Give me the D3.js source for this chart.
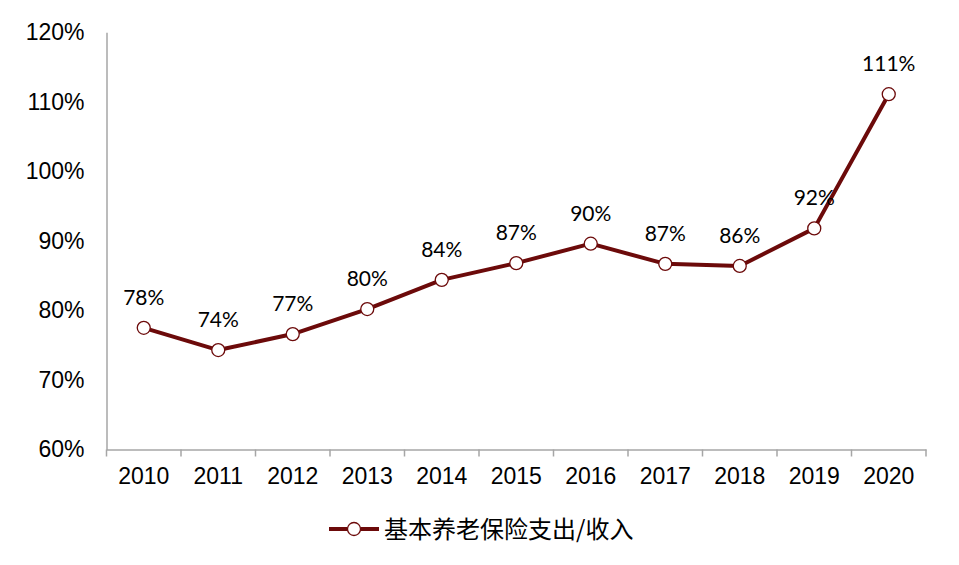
<!DOCTYPE html>
<html>
<head>
<meta charset="utf-8">
<script src="https://cdn.jsdelivr.net/npm/d3@7"></script>
<style>
html,body{margin:0;padding:0;background:#fff;}
</style>
</head>
<body>
<svg id="chart" width="959" height="565"></svg>
<script>
const years = ["2010","2011","2012","2013","2014","2015","2016","2017","2018","2019","2020"];
const ratio = [77.5, 74.3, 76.6, 80.2, 84.4, 86.8, 89.6, 86.7, 86.4, 91.8, 111.1];
const dataLabels = ["78%","74%","77%","80%","84%","87%","90%","87%","86%","92%","111%"];
const yTicks = [60, 70, 80, 90, 100, 110, 120];
const seriesName = "基本养老保险支出/收入";

const svg = d3.select("#chart");
const plotLeft = 106.5, plotRight = 926, plotTop = 32.3, plotBottom = 449.5;
const lineColor = "#6C0A0A";
const axisColor = "#A6A6A6";

const x = d3.scaleBand().domain(years).range([plotLeft, plotRight]);
const y = d3.scaleLinear().domain([60, 120]).range([plotBottom, plotTop]);

// y axis
const yAxis = svg.append("g").attr("transform", `translate(${plotLeft},0)`)
  .call(d3.axisLeft(y).tickValues(yTicks).tickSize(0).tickPadding(22).tickFormat(d => d + "%"));
yAxis.select(".domain").attr("stroke", axisColor).attr("stroke-width", 1.5);
yAxis.selectAll("text").attr("font-family", "Liberation Sans, Arial, sans-serif")
  .attr("font-size", "23px").attr("fill", "#000");

// x axis
const xAxis = svg.append("g").attr("transform", `translate(0,${plotBottom})`)
  .call(d3.axisBottom(x).tickSize(0).tickPadding(18));
xAxis.select(".domain").attr("stroke", axisColor).attr("stroke-width", 1.5);
xAxis.selectAll("text").attr("font-family", "Liberation Sans, Arial, sans-serif")
  .attr("font-size", "23px").attr("fill", "#000");
// tick marks between categories
const boundaries = years.map(d => x(d)).concat([plotRight]);
xAxis.selectAll(".sep").data(boundaries).enter().append("line")
  .attr("x1", d => d).attr("x2", d => d).attr("y1", 0).attr("y2", 7)
  .attr("stroke", axisColor).attr("stroke-width", 1.5);

const cx = d => x(d) + x.bandwidth() / 2;

// line
const line = d3.line().x((d, i) => cx(years[i])).y(d => y(d));
svg.append("path").datum(ratio).attr("d", line)
  .attr("fill", "none").attr("stroke", lineColor).attr("stroke-width", 4)
  .attr("stroke-linejoin", "round");

// markers
svg.selectAll(".pt").data(ratio).enter().append("circle")
  .attr("cx", (d, i) => cx(years[i])).attr("cy", d => y(d)).attr("r", 6.5)
  .attr("fill", "#fff").attr("stroke", lineColor).attr("stroke-width", 1.3);

// data labels
svg.selectAll(".lbl").data(ratio).enter().append("text")
  .attr("x", (d, i) => cx(years[i])).attr("y", d => y(d) - 23)
  .attr("text-anchor", "middle")
  .attr("font-family", "Lato, 'Open Sans', sans-serif").attr("font-size", "21px")
  .attr("fill", "#000")
  .text((d, i) => dataLabels[i]);

// legend
const lg = svg.append("g");
lg.append("line").attr("x1", 329).attr("x2", 379).attr("y1", 529).attr("y2", 529)
  .attr("stroke", lineColor).attr("stroke-width", 4);
lg.append("circle").attr("cx", 354).attr("cy", 529).attr("r", 6.5)
  .attr("fill", "#fff").attr("stroke", lineColor).attr("stroke-width", 1.3);
lg.append("text").attr("x", 384).attr("y", 537.5)
  .attr("font-family", "'Noto Sans CJK SC', sans-serif").attr("font-size", "24px")
  .attr("fill", "#000").text(seriesName);
</script>
</body>
</html>
